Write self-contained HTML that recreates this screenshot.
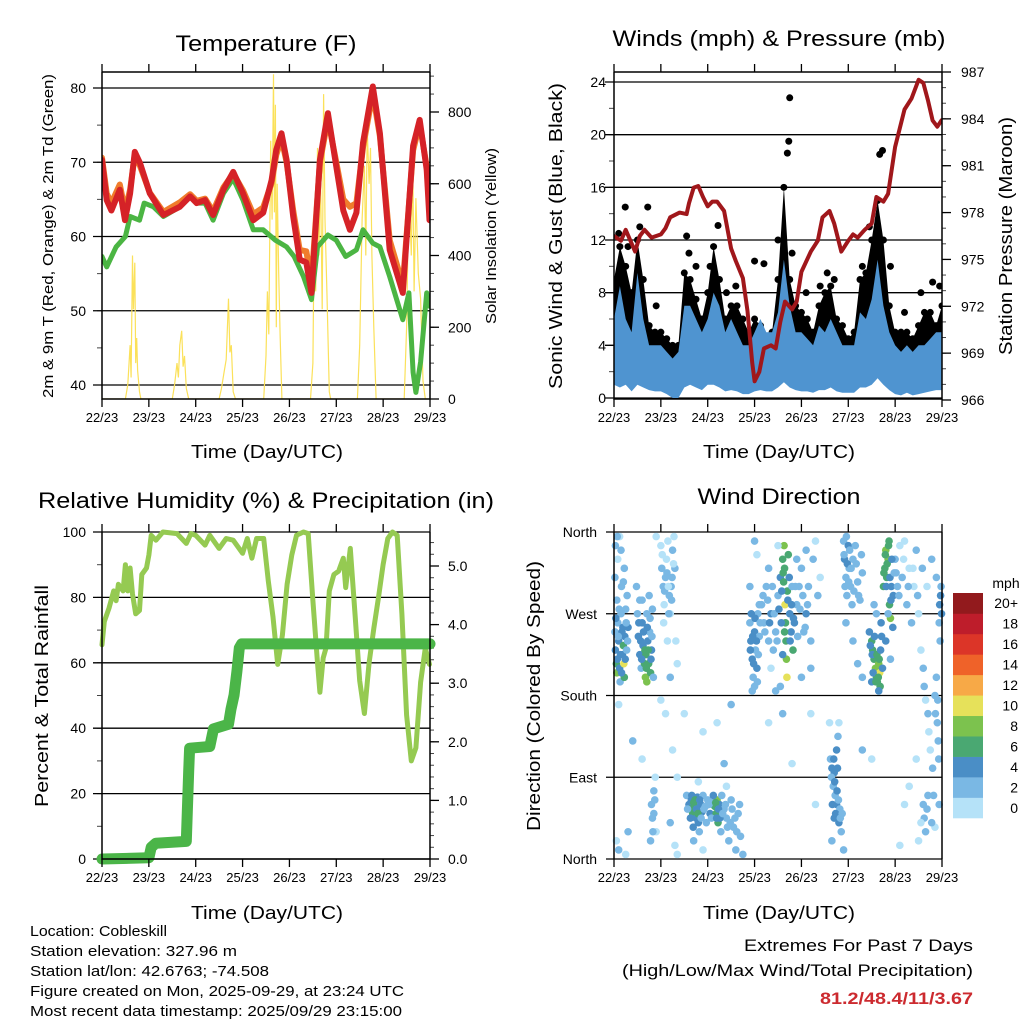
<!DOCTYPE html>
<html><head><meta charset="utf-8"><style>
html,body{margin:0;padding:0;background:#fff}
svg{display:block;font-family:"Liberation Sans",sans-serif}
</style></head><body>
<svg id="chart" xmlns="http://www.w3.org/2000/svg" width="1024" height="1024" viewBox="0 0 1024 1024">
<defs>
<clipPath id="c1"><rect x="102" y="72" width="328" height="327"/></clipPath>
<clipPath id="c2"><rect x="614" y="72" width="328" height="327"/></clipPath>
<clipPath id="c3"><rect x="96" y="526" width="342" height="340"/></clipPath>
<clipPath id="c4"><rect x="610" y="528" width="336" height="336"/></clipPath>
</defs>
<g font-size="22" text-anchor="middle" fill="#000">
<text x="266" y="51" textLength="181" lengthAdjust="spacingAndGlyphs">Temperature (F)</text>
<text x="779" y="46" textLength="333" lengthAdjust="spacingAndGlyphs">Winds (mph) &amp; Pressure (mb)</text>
<text x="266" y="508" textLength="456" lengthAdjust="spacingAndGlyphs">Relative Humidity (%) &amp; Precipitation (in)</text>
<text x="779" y="504" textLength="163" lengthAdjust="spacingAndGlyphs">Wind Direction</text>
</g>
<g font-size="18" text-anchor="middle">
<text x="267" y="458" textLength="152" lengthAdjust="spacingAndGlyphs">Time (Day/UTC)</text>
<text x="779" y="458" textLength="152" lengthAdjust="spacingAndGlyphs">Time (Day/UTC)</text>
<text x="267" y="919" textLength="152" lengthAdjust="spacingAndGlyphs">Time (Day/UTC)</text>
<text x="779" y="919" textLength="152" lengthAdjust="spacingAndGlyphs">Time (Day/UTC)</text>
<text transform="translate(562,236) rotate(-90)" textLength="306" lengthAdjust="spacingAndGlyphs">Sonic Wind &amp; Gust (Blue, Black)</text>
<text transform="translate(1012,236) rotate(-90)" textLength="238" lengthAdjust="spacingAndGlyphs">Station Pressure (Maroon)</text>
<text transform="translate(48,696) rotate(-90)" textLength="222" lengthAdjust="spacingAndGlyphs">Percent &amp; Total Rainfall</text>
<text transform="translate(540,696) rotate(-90)" textLength="270" lengthAdjust="spacingAndGlyphs">Direction (Colored By Speed)</text>
</g>
<g font-size="15" text-anchor="middle">
<text transform="translate(53,236) rotate(-90)" textLength="324" lengthAdjust="spacingAndGlyphs">2m &amp; 9m T (Red, Orange) &amp; 2m Td (Green)</text>
<text transform="translate(496,236) rotate(-90)" textLength="176" lengthAdjust="spacingAndGlyphs">Solar Insolation (Yellow)</text>
</g>
<g font-size="15">
<text x="30" y="936" textLength="137" lengthAdjust="spacingAndGlyphs">Location: Cobleskill</text>
<text x="30" y="956" textLength="207" lengthAdjust="spacingAndGlyphs">Station elevation: 327.96 m</text>
<text x="30" y="976" textLength="239" lengthAdjust="spacingAndGlyphs">Station lat/lon: 42.6763; -74.508</text>
<text x="30" y="996" textLength="374" lengthAdjust="spacingAndGlyphs">Figure created on Mon, 2025-09-29, at 23:24 UTC</text>
<text x="30" y="1016" textLength="372" lengthAdjust="spacingAndGlyphs">Most recent data timestamp: 2025/09/29 23:15:00</text>
</g>
<g font-size="17" text-anchor="end">
<text x="973" y="951" textLength="229" lengthAdjust="spacingAndGlyphs">Extremes For Past 7 Days</text>
<text x="973" y="976" textLength="351" lengthAdjust="spacingAndGlyphs">(High/Low/Max Wind/Total Precipitation)</text>
<text x="973" y="1004" font-weight="bold" fill="#cc2a2f" textLength="153" lengthAdjust="spacingAndGlyphs">81.2/48.4/11/3.67</text>
</g>
<g id="layer"></g>
</svg>
<script>
// ---------- data ----------
const dayLabels = ["22/23","23/23","24/23","25/23","26/23","27/23","28/23","29/23"];
const tempTicks = [40,50,60,70,80];
const solarTicks = [0,200,400,600,800];
const windTicks = [0,4,8,12,16,20,24];
const presTicks = [966,969,972,975,978,981,984,987];
const rhTicks = [0,20,40,60,80,100];
const precipTicks = ["0.0","1.0","2.0","3.0","4.0","5.0"];
const dirTicks = ["North","East","South","West","North"];
const speedBins = ["0","2","4","6","8","10","12","14","16","18","20+"];

const redT = [0,0.1,0.2,0.38,0.49,0.6,0.7,0.81,1.02,1.31,1.66,1.88,2.02,2.2,2.37,2.59,2.8,3.01,3.23,3.44,3.62,3.72,3.83,3.94,4.08,4.22,4.36,4.47,4.65,4.82,5.0,5.15,5.29,5.43,5.57,5.78,5.93,6.14,6.42,6.64,6.78,6.93,6.99];
const redV = [70.3,64.9,63.5,66.3,62.2,65.8,71.4,69.9,65.8,62.9,64.0,65.4,64.5,64.9,62.9,66.3,68.7,65.8,62.2,63.2,67.6,71.7,73.9,70.3,62.7,56.9,56.5,52.4,70.3,76.6,69.4,63.5,60.9,63.2,72.6,80.2,73.9,58.2,52.4,72.2,75.7,69.0,62.2];
const orangeT = [0,0.1,0.2,0.38,0.49,0.6,0.7,0.81,1.02,1.31,1.66,1.88,2.02,2.2,2.37,2.59,2.8,3.01,3.23,3.44,3.62,3.72,3.83,3.94,4.08,4.22,4.36,4.47,4.65,4.82,5.0,5.15,5.29,5.43,5.57,5.78,5.93,6.14,6.42,6.64,6.78,6.93,6.99];
const orangeV = [70.6,65.8,64.5,67.0,63.5,66.3,71.0,69.5,65.9,63.3,64.6,65.7,64.8,65.1,63.4,66.6,68.5,66.2,63.0,63.9,67.2,71.0,73.2,70.0,63.5,58.2,58.0,54.0,70.0,75.8,70.0,65.0,64.0,64.5,72.0,79.3,73.5,59.5,53.5,71.6,75.2,69.4,63.5];
const dewT = [0,0.1,0.3,0.5,0.6,0.8,0.9,1.1,1.31,1.66,1.88,2.02,2.2,2.37,2.59,2.8,3.01,3.23,3.44,3.7,3.94,4.1,4.3,4.47,4.6,4.82,5.0,5.2,5.43,5.57,5.78,5.93,6.14,6.42,6.55,6.64,6.7,6.8,6.93,6.99];
const dewV = [57.3,55.9,58.6,60.0,62.7,62.2,64.5,64.0,62.7,64.0,65.4,64.5,64.5,62.2,65.8,67.8,64.9,60.9,60.9,59.5,58.6,57.3,54.6,51.5,58.6,60.2,59.5,57.3,58.2,60.9,59.1,58.6,54.6,48.8,52.4,41.7,39.0,43.1,52.4,50.6];
const solarT = [0,0.5,0.55,0.6,0.62,0.65,0.67,0.7,0.72,0.74,0.76,0.8,0.83,1.5,1.55,1.6,1.63,1.66,1.7,1.73,1.76,1.8,1.85,2.5,2.55,2.6,2.65,2.7,2.73,2.76,2.8,2.85,3.45,3.5,3.53,3.56,3.6,3.63,3.66,3.68,3.7,3.72,3.74,3.77,3.8,3.84,4.45,4.5,4.53,4.56,4.6,4.63,4.66,4.7,4.73,4.76,4.8,4.85,4.88,5.45,5.5,5.55,5.6,5.63,5.66,5.7,5.73,5.76,5.8,5.85,6.45,6.5,6.55,6.6,6.63,6.66,6.7,6.75,6.8,6.85,6.9,7];
const solarV = [0,0,40,150,60,400,250,380,100,170,80,20,0,0,40,100,60,150,190,90,120,30,0,0,30,70,110,280,130,150,20,0,0,120,300,180,720,500,905,520,820,200,600,350,180,0,0,100,500,300,700,400,650,250,850,500,300,20,0,0,150,500,650,400,755,600,700,400,200,0,0,200,600,400,671,300,560,350,280,50,0,0];

const pressT = [0,0.15,0.25,0.45,0.55,0.65,0.8,1.0,1.1,1.2,1.4,1.55,1.6,1.7,1.8,1.9,2.0,2.1,2.2,2.35,2.5,2.6,2.75,2.85,2.95,3.0,3.1,3.2,3.35,3.45,3.55,3.65,3.8,3.9,4.0,4.2,4.35,4.45,4.6,4.7,4.85,5.0,5.1,5.2,5.35,5.5,5.6,5.75,5.85,6.0,6.2,6.35,6.5,6.6,6.7,6.8,6.9,6.99];
const pressV = [976.5,976.2,976.9,975.5,976.5,976.9,976.4,976.6,977.0,977.7,978.0,977.9,978.6,979.6,979.7,979.0,978.4,978.7,978.7,978.1,975.7,974.9,973.8,971.7,968.4,967.2,967.8,969.3,969.5,969.3,971.0,972.3,971.8,972.3,974.2,975.5,976.2,977.7,978.1,977.3,975.5,976.2,976.6,976.4,976.9,977.3,979.0,978.7,979.2,982.2,984.6,985.3,986.5,986.3,985.2,983.9,983.5,983.9];
// 3-hourly envelopes (57 values, day 0..7)
const sustHi = [6,8.5,6,5,9.5,6,4,4,4,3.5,3,3.5,7,7,6,5,6,8,7,5,6,5,4,4,5,6,5,5,6.5,10.5,7,5,5,4.5,4,5.5,5,6,5,4,4,4,6.5,6,7.5,10.5,7,5,4,3.5,4,3.5,4,4,4.5,5,5];
const sustLo = [1,0.8,1,0.5,1,0.8,0.6,0.5,0.5,0.3,0,0,0.8,1,0.8,0.6,1,1,0.8,0.5,0.6,0.5,0.3,0.3,0.5,0.6,0.5,0.5,0.8,1.2,0.8,0.6,0.5,0.5,0.4,0.6,0.6,0.8,0.5,0.4,0.4,0.4,0.8,0.8,1,1.5,1,0.6,0.3,0.2,0.4,0.2,0.3,0.4,0.5,0.6,0.6];
const gustHi = [9,11.5,10,8,12,9,5.5,5,5,4.5,4,4,9.5,9,7.5,6,8,11.5,9,6,7,7,6,5,6,5.5,4.5,5,9,16,9,7,6.5,6,5,7,8,8.5,6,5.5,4.5,5,9,9.5,12,15,12,7,5,5,5,4.5,5.5,6.5,6.5,5.5,7];
const gustOutT = [3.75,3.73,3.7,3.2,5.67,5.73,0.72,0.24,2.22,6.8,3.0,1.55,0.1,0.3,0.55,0.9,1.6,1.75,2.05,2.4,2.6,3.5,3.8,4.1,4.4,4.55,4.7,5.3,5.45,5.9,6.2,6.55,6.95];
const gustOutV = [22.8,19.5,18.6,10.2,18.5,18.8,14.5,14.5,13.1,8.8,10.4,12.3,12.5,11.5,13,7,11,10,10,8,8.5,12,11,8,8.5,9.5,9,10,13,10,6.5,8,8.5];

const rhT = [0,0.05,0.15,0.25,0.3,0.35,0.45,0.5,0.55,0.6,0.65,0.72,0.8,0.85,0.95,1.0,1.05,1.15,1.3,1.6,1.8,1.9,2.0,2.2,2.3,2.5,2.65,2.8,3.0,3.1,3.2,3.3,3.45,3.55,3.65,3.75,3.85,3.95,4.05,4.15,4.3,4.4,4.5,4.6,4.65,4.72,4.78,4.85,4.95,5.05,5.15,5.2,5.3,5.4,5.5,5.6,5.7,5.8,5.9,6.0,6.1,6.2,6.3,6.4,6.5,6.6,6.7,6.8,6.9,6.99];
const rhV = [65.5,72.6,76.7,82,79,84,82,90,82,89,81,75,76,87,89,93,99,97.5,100,99.5,96.5,99.5,99,96,99,95,98,97.5,93.5,98,92,98,98,85,74,59.5,68.5,84,93,99,100,99.5,79,60,51,61.5,64.5,82,87,88,92,83,95,75,54.5,44.5,60,70.5,80,90,98,100,99,75,44,30,34,54,64.5,59.5];
const precipT = [0,1.0,1.05,1.15,1.8,1.82,1.85,1.87,2.3,2.38,2.7,2.75,2.82,2.88,2.93,2.98,7];
const precipV = [0,0.02,0.2,0.27,0.3,0.8,1.5,1.89,1.92,2.22,2.3,2.55,2.8,3.2,3.6,3.67,3.67];

// wind direction observations: [day, degrees, mph]
const dirObs = [
[0.02,250,3],[0.03,230,4],[0.05,215,6],[0.06,205,8],[0.07,220,4],[0.08,260,3],[0.1,240,4],[0.12,210,5],[0.13,195,3],[0.15,270,3],[0.17,250,4],[0.18,225,4],[0.2,235,7],[0.21,215,10],[0.22,200,6],[0.23,245,4],[0.25,275,2],[0.27,230,3],[0.03,345,2],[0.08,330,1],[0.12,355,0],[0.05,20,1],[0.1,10,2],[0.2,305,2],[0.28,290,3],[0.3,255,4],
[0.5,270,3],[0.52,245,4],[0.55,225,4],[0.58,210,3],[0.6,260,4],[0.62,235,5],[0.65,215,7],[0.67,200,8],[0.68,225,6],[0.7,195,8],[0.72,240,4],[0.74,215,6],[0.76,250,3],[0.78,205,7],[0.8,230,4],[0.82,275,3],[0.55,285,2],[0.48,300,2],[0.75,290,2],[0.8,60,2],[0.82,45,3],[0.85,75,2],[0.9,30,1],[0.78,20,2],[0.9,355,0],
[1.0,345,1],[1.02,320,2],[1.05,300,2],[1.07,280,1],[1.1,310,2],[1.12,330,1],[1.15,350,1],[1.18,290,2],[1.2,270,1],[1.22,300,3],[1.25,340,2],[1.28,355,1],[1.3,320,2],[1.32,240,0],[1.35,215,1],[1.2,200,2],[1.1,160,1],[1.0,175,0],[1.25,120,1],[1.35,90,0],[1.2,40,2],[1.3,15,1],[1.35,5,0],
[1.55,70,2],[1.6,60,5],[1.62,55,6],[1.65,65,4],[1.68,50,6],[1.7,62,6],[1.72,58,7],[1.75,45,4],[1.78,68,5],[1.8,40,4],[1.82,30,3],[1.85,60,4],[1.88,52,4],[1.9,70,3],[1.95,58,3],[2.0,65,3],[2.05,50,4],[2.1,62,3],[2.15,58,7],[2.18,50,6],[2.2,65,8],[2.22,40,6],[2.25,60,4],[2.28,30,3],[2.3,70,2],[2.35,55,3],[2.4,45,2],[2.45,20,2],[2.5,65,3],[2.55,35,2],[2.6,10,3],[2.65,50,2],[2.7,25,2],[2.75,5,2],[1.7,20,2],[1.9,10,1],[2.35,105,2],[2.4,80,1],[1.8,85,1],
[2.9,260,3],[2.92,240,4],[2.95,220,4],[2.97,200,3],[3.0,250,4],[3.02,230,3],[3.05,210,4],[3.07,270,3],[3.1,245,2],[2.95,185,3],[3.0,190,2],[2.9,300,2],[3.05,335,1],[3.0,350,2],
[3.15,280,3],[3.2,260,2],[3.25,300,2],[3.3,240,3],[3.35,270,4],[3.4,230,2],[3.45,250,3],[3.5,290,3],[3.55,310,4],[3.6,330,6],[3.62,305,7],[3.63,345,8],[3.64,320,6],[3.65,280,10],[3.66,260,7],[3.67,240,6],[3.68,220,8],[3.69,200,10],[3.7,295,6],[3.72,335,7],[3.75,270,5],[3.78,250,4],[3.8,300,3],[3.82,230,6],[3.6,225,4],[3.55,190,3],[3.45,185,2],[3.35,210,1],[3.5,345,1],[3.3,320,2],
[3.85,260,4],[3.9,280,3],[3.95,300,2],[4.0,320,3],[4.05,250,2],[4.1,270,4],[4.15,300,3],[4.2,240,2],[4.25,330,2],[4.3,350,1],[4.35,290,2],[4.0,200,2],[4.2,210,3],[4.1,340,2],[3.9,330,2],[4.4,310,1],[4.3,60,1],
[4.62,110,2],[4.65,100,4],[4.68,80,3],[4.7,95,4],[4.72,70,3],[4.75,60,4],[4.78,50,3],[4.8,40,4],[4.82,55,3],[4.85,30,2],[4.75,120,4],[4.78,135,2],[4.8,150,1],[4.7,45,4],[4.65,20,2],[4.9,10,2],
[4.9,350,3],[4.92,330,4],[4.95,310,3],[4.97,290,2],[5.0,345,4],[5.02,320,3],[5.05,300,2],[5.08,280,3],[5.1,330,2],[5.15,345,3],[5.2,305,2],[5.25,285,3],[5.3,315,2],[4.95,260,2],[5.1,240,3],[5.2,215,3],[5.3,200,2],
[5.45,250,4],[5.5,240,6],[5.52,230,7],[5.55,220,6],[5.58,210,8],[5.6,200,7],[5.62,195,6],[5.65,215,8],[5.67,205,10],[5.68,190,7],[5.6,270,3],[5.55,280,3],[5.7,260,4],[5.5,195,4],[5.65,185,4],
[5.75,300,6],[5.78,320,7],[5.8,340,8],[5.82,310,6],[5.85,330,8],[5.87,350,7],[5.88,280,6],[5.9,265,9],[5.92,300,5],[5.95,255,4],[5.8,240,4],[5.85,270,3],[5.9,220,3],
[6.0,330,2],[6.05,300,2],[6.1,345,1],[6.15,310,2],[6.2,350,1],[6.25,280,2],[6.3,320,1],[6.35,260,2],[6.4,300,1],[6.45,340,2],[6.5,270,1],[6.55,230,1],[6.6,210,2],[6.62,190,2],[6.65,175,1],[6.7,160,2],[6.72,140,1],[6.75,120,1],[6.8,100,2],[6.85,180,2],[6.88,200,3],[6.9,150,2],[6.92,130,2],[6.95,280,4],[6.97,290,4],[6.98,300,3],[6.6,60,2],[6.62,45,3],[6.65,30,2],[6.68,55,2],[6.7,70,2],[6.5,20,1],[6.55,40,0],[6.2,60,1],[6.1,15,1],[6.3,80,0],[6.85,35,1],[6.45,110,0],
[0.1,170,1],[0.4,130,2],[0.6,110,1],[1.5,160,1],[1.9,140,1],[2.2,150,1],[2.5,170,2],[3.3,150,1],[3.6,160,2],[4.2,160,1],[4.6,150,1],[5.3,120,2],[5.5,110,1],[3.8,105,1],
[0.04,265,4],[0.09,245,3],[0.14,225,4],[0.16,205,4],[0.19,255,5],[0.24,220,4],[0.26,260,3],[0.29,240,3],[0.06,285,3],[0.11,275,2],[0.16,300,2],[0.22,320,2],[0.02,310,2],[0.07,355,2],[0.15,340,2],[0.25,5,1],[0.3,30,2],
[0.53,260,4],[0.57,240,5],[0.59,220,4],[0.63,250,4],[0.66,230,6],[0.69,210,7],[0.71,255,4],[0.73,230,7],[0.77,265,3],[0.79,220,4],[0.81,245,3],[0.84,200,3],[0.6,285,2],[0.7,270,3],[0.85,50,2],[0.87,65,2],[0.83,30,2],[0.88,90,1],
[1.03,335,1],[1.08,295,2],[1.13,315,2],[1.17,270,2],[1.23,285,2],[1.27,325,1],[1.06,260,1],[1.14,240,1],[1.16,300,1],[1.24,310,2],
[1.57,55,3],[1.63,45,4],[1.66,70,5],[1.69,35,4],[1.73,65,6],[1.76,55,5],[1.79,50,6],[1.83,65,4],[1.86,45,3],[1.92,55,3],[1.97,40,3],[2.03,60,3],[2.08,45,3],[2.12,70,4],[2.17,62,7],[2.19,45,5],[2.23,55,5],[2.26,45,4],[2.32,50,3],[2.38,60,2],[2.42,35,2],[2.48,40,2],[2.52,55,3],[2.58,45,2],[2.62,30,2],[2.68,60,3],
[2.91,230,4],[2.93,270,4],[2.96,245,5],[2.98,215,4],[3.01,265,4],[3.04,240,4],[3.06,195,3],[3.08,225,3],[3.1,280,3],[3.12,260,3],
[3.18,290,3],[3.22,250,3],[3.28,285,3],[3.32,260,4],[3.38,300,3],[3.42,270,3],[3.48,240,3],[3.52,275,4],[3.57,260,4],[3.58,295,5],[3.61,315,6],[3.64,250,6],[3.71,285,5],[3.74,310,5],[3.76,240,4],[3.79,280,4],[3.83,265,4],[3.87,300,3],[3.92,245,3],[3.97,275,3],[4.03,290,2],[4.08,255,3],[4.13,280,3],
[4.64,90,3],[4.66,60,4],[4.69,110,4],[4.71,85,4],[4.73,50,4],[4.76,75,4],[4.77,100,4],[4.79,65,3],[4.83,45,3],[4.87,50,2],
[4.91,335,3],[4.93,300,3],[4.96,355,3],[4.98,325,4],[5.01,305,3],[5.03,340,2],[5.06,320,2],[5.12,295,2],[5.17,325,2],[5.22,290,2],[5.28,335,2],
[5.47,235,4],[5.51,225,5],[5.53,205,5],[5.56,245,4],[5.59,195,7],[5.61,225,6],[5.64,200,7],[5.66,220,7],[5.69,230,5],[5.71,245,4],[5.73,210,4],
[5.76,315,6],[5.79,335,7],[5.81,300,5],[5.83,325,6],[5.86,345,7],[5.89,310,5],[5.91,285,5],[5.93,330,4],[5.96,290,4],[5.98,315,3],
[6.02,315,2],[6.08,290,2],[6.18,330,1],[6.28,300,2],[6.38,320,1],[6.48,290,2],[6.58,320,2],[6.68,300,1],[6.78,330,2],[6.88,310,2],[6.94,260,3],[6.96,240,3],[6.99,270,4],[6.86,160,2],[6.91,175,2],[6.93,110,2],[6.94,60,2],[6.82,70,2],[6.78,40,2]
];
const binColors = ["#b5e2f8","#7ab8e4","#4a8ec6","#4aa872","#7cc24e","#e6e15a","#f7a947","#ef6229","#dc3528","#be1d2b","#921a1d"];

// ---------- helpers ----------
const NS = "http://www.w3.org/2000/svg";
const layer = document.getElementById("layer");
function mk(tag, attrs, parent) {
  const e = document.createElementNS(NS, tag);
  for (const k in attrs) e.setAttribute(k, attrs[k]);
  (parent || layer).appendChild(e);
  return e;
}
function xs(px0, px1) { return d => px0 + d * (px1 - px0) / 7; }
function lin(v0, p0, v1, p1) { return v => p0 + (v - v0) * (p1 - p0) / (v1 - v0); }
function pathOf(ts, vs, fx, fy) { return ts.map((t, i) => (i ? "L" : "M") + fx(t).toFixed(1) + "," + fy(vs[i]).toFixed(1)).join(""); }

function xAxis(px0, px1, yb, ytop, name) {
  const fx = xs(px0, px1);
  dayLabels.forEach((lab, i) => {
    const x = fx(i);
    const tk = mk("line", {x1:x, x2:x, y1:yb, y2:yb+8, stroke:"#000", "stroke-width":1.3});
    
    
    if (ytop !== null) {
      const tt = mk("line", {x1:x, x2:x, y1:ytop-8, y2:ytop, stroke:"#000", "stroke-width":1.3});
      
      
    }
    const tx = mk("text", {x:x, y:yb+23, "font-size":13, "text-anchor":"middle"});
    tx.textContent = lab;
    
    
  });
}
function leftAxis(px0, px1, values, labels, fy, minorStep, vmin, vmax, name, labelX) {
  for (let v = vmin; v <= vmax + 1e-9; v += minorStep) {
    const y = fy(v);
    const m = mk("line", {x1:px0-5, x2:px0, y1:y, y2:y, stroke:"#444", "stroke-width":1});
    
    
  }
  values.forEach((v, i) => {
    const y = fy(v);
    const g = mk("line", {x1:px0-9, x2:px1, y1:y, y2:y, stroke:"#000", "stroke-width":1.3});
    
    
    const t = mk("text", {x:labelX, y:y+5, "font-size":14, "text-anchor":"end"});
    t.textContent = labels[i];
    
    
  });
}
function rightAxis(px1, values, labels, fy, minorStep, vmin, vmax, name, labelX) {
  for (let v = vmin; v <= vmax + 1e-9; v += minorStep) {
    const y = fy(v);
    const m = mk("line", {x1:px1, x2:px1+4, y1:y, y2:y, stroke:"#444", "stroke-width":1});
    
    
  }
  values.forEach((v, i) => {
    const y = fy(v);
    const g = mk("line", {x1:px1, x2:px1+9, y1:y, y2:y, stroke:"#000", "stroke-width":1.3});
    
    
    const t = mk("text", {x:labelX, y:y+5, "font-size":14});
    t.textContent = labels[i];
    
    
  });
}
function frame(x0, y0, x1, y1, name, top) {
  const f = mk("path", {d:`M${x0},${y0}V${y1}H${x1}V${y0}` + (top ? `M${x0},${y0}H${x1}` : ""), fill:"none", stroke:"#000", "stroke-width":1.5});
  
  
}

// ---------- panel 1: temperature ----------
{
  const fx = xs(102, 430);
  const fyT = lin(80, 88, 40, 385);
  const fyS = lin(0, 399, 800, 112);
  leftAxis(102, 430, tempTicks, tempTicks.map(String), fyT, 5, 40, 80, "temp", 86);
  rightAxis(430, solarTicks, solarTicks.map(String), fyS, 50, 0, 900, "solar", 448);
  const g = mk("g", {"clip-path":"url(#c1)"});
  
  
  const sol = mk("path", {d:pathOf(solarT, solarV, fx, fyS), fill:"none", stroke:"#fbe15a", "stroke-width":1.2}, g);
  
  
  const dew = mk("path", {d:pathOf(dewT, dewV, fx, fyT), fill:"none", stroke:"#4bb543", "stroke-width":5, "stroke-linejoin":"round", "stroke-linecap":"round"}, g);
  
  
  const or = mk("path", {d:pathOf(orangeT, orangeV, fx, fyT), fill:"none", stroke:"#f07c2c", "stroke-width":6, "stroke-linejoin":"round", "stroke-linecap":"round"}, g);
  
  
  const rd = mk("path", {d:pathOf(redT, redV, fx, fyT), fill:"none", stroke:"#d52227", "stroke-width":6, "stroke-linejoin":"round", "stroke-linecap":"round"}, g);
  
  
  frame(102, 72, 430, 399, "temperature", true);
  xAxis(102, 430, 399, 72, "temperature");
}

// ---------- panel 2: winds ----------
{
  const fx = xs(614, 942);
  const fyW = lin(0, 398, 24, 82);
  const fyP = lin(966, 400, 987, 72);
  leftAxis(614, 942, windTicks, windTicks.map(String), fyW, 2, 0, 24, "wind", 606);
  rightAxis(942, presTicks, presTicks.map(String), fyP, 1, 966, 987, "pressure", 961);
  const g = mk("g", {"clip-path":"url(#c2)"});
  
  
  const n = gustHi.length;
  const tt = gustHi.map((_, i) => i * 7 / (n - 1));
  const top = tt.map((t, i) => (i ? "L" : "M") + fx(t).toFixed(1) + "," + fyW(gustHi[i]).toFixed(1)).join("");
  const midRev = tt.slice().reverse().map((t, j) => "L" + fx(t).toFixed(1) + "," + fyW(sustHi[n-1-j] * 0.8).toFixed(1)).join("");
  const gb = mk("path", {d:top + midRev + "Z", fill:"#000", stroke:"none"}, g);
  
  
  tt.forEach((t, i) => {
    const c = mk("circle", {cx:fx(t), cy:fyW(gustHi[i]), r:3.5, fill:"#000"}, g);
    
    
  });
  gustOutT.forEach((t, i) => {
    const c = mk("circle", {cx:fx(t), cy:fyW(gustOutV[i]), r:3.5, fill:"#000"}, g);
    
    
  });
  const top2 = tt.map((t, i) => (i ? "L" : "M") + fx(t).toFixed(1) + "," + fyW(sustHi[i]).toFixed(1)).join("");
  const botRev = tt.slice().reverse().map((t, j) => "L" + fx(t).toFixed(1) + "," + fyW(sustLo[n-1-j]).toFixed(1)).join("");
  const sb = mk("path", {d:top2 + botRev + "Z", fill:"#4f94d0", stroke:"none"}, g);
  
  
  const pr = mk("path", {d:pathOf(pressT, pressV, fx, fyP), fill:"none", stroke:"#a0171b", "stroke-width":4, "stroke-linejoin":"round", "stroke-linecap":"round"}, g);
  
  
  frame(614, 72, 942, 399, "winds", true);
  xAxis(614, 942, 399, 72, "winds");
}

// ---------- panel 3: humidity & precipitation ----------
{
  const fx = xs(102, 430);
  const fyR = lin(0, 859, 100, 532);
  const fyPr = lin(0, 859, 5, 566);
  leftAxis(102, 430, rhTicks, rhTicks.map(String), fyR, 10, 0, 100, "humidity", 86);
  rightAxis(430, [0,1,2,3,4,5], precipTicks, fyPr, 0.2, 0, 5.5, "precip", 448);
  const g = mk("g", {"clip-path":"url(#c3)"});
  
  
  const rh = mk("path", {d:pathOf(rhT, rhV, fx, fyR), fill:"none", stroke:"#95ca52", "stroke-width":5, "stroke-linejoin":"round", "stroke-linecap":"round"}, g);
  
  
  const pc = mk("path", {d:pathOf(precipT, precipV, fx, fyPr), fill:"none", stroke:"#4bb548", "stroke-width":11, "stroke-linejoin":"round", "stroke-linecap":"round"}, g);
  
  
  frame(102, 532, 430, 859, "humidity", false);
  xAxis(102, 430, 859, 532, "humidity");
}

// ---------- panel 4: wind direction ----------
{
  const fx = xs(614, 942);
  const fyD = lin(0, 859, 360, 532);
  dirTicks.forEach((lab, i) => {
    const y = fyD(i * 90);
    const gl = mk("line", {x1:606, x2:942, y1:y, y2:y, stroke:"#000", "stroke-width":1.3});
    
    
    const t = mk("text", {x:597, y:y+5, "font-size":14, "text-anchor":"end"});
    t.textContent = lab;
    
    
  });
  const g = mk("g", {"clip-path":"url(#c4)"});
  
  
  dirObs.forEach(o => {
    const bin = Math.min(10, Math.floor(o[2] / 2));
    const c = mk("circle", {cx:fx(o[0]), cy:fyD(o[1]), r:3.8, fill:binColors[bin]}, g);
    
    
  });
  const ax = mk("path", {d:"M614,532V859M942,532V859", stroke:"#000", "stroke-width":1.5, fill:"none"});
  
  
  xAxis(614, 942, 859, 532, "direction");
  // colorbar
  const cbTop = 593, cbBot = 818, bh = (cbBot - cbTop) / speedBins.length;
  speedBins.forEach((lab, i) => {
    const y = cbBot - (i + 1) * bh;
    const r = mk("rect", {x:953, y:y, width:30, height:bh + 0.3, fill:binColors[i]});
    
    
    const t = mk("text", {x:1018, y:y + bh/2 + 5, "font-size":14, "text-anchor":"end"});
    t.textContent = lab;
    
    
  });
  const u = mk("text", {x:1006, y:588, "font-size":14, "text-anchor":"middle"});
  u.textContent = "mph";
  
  
}
</script>
</body></html>
